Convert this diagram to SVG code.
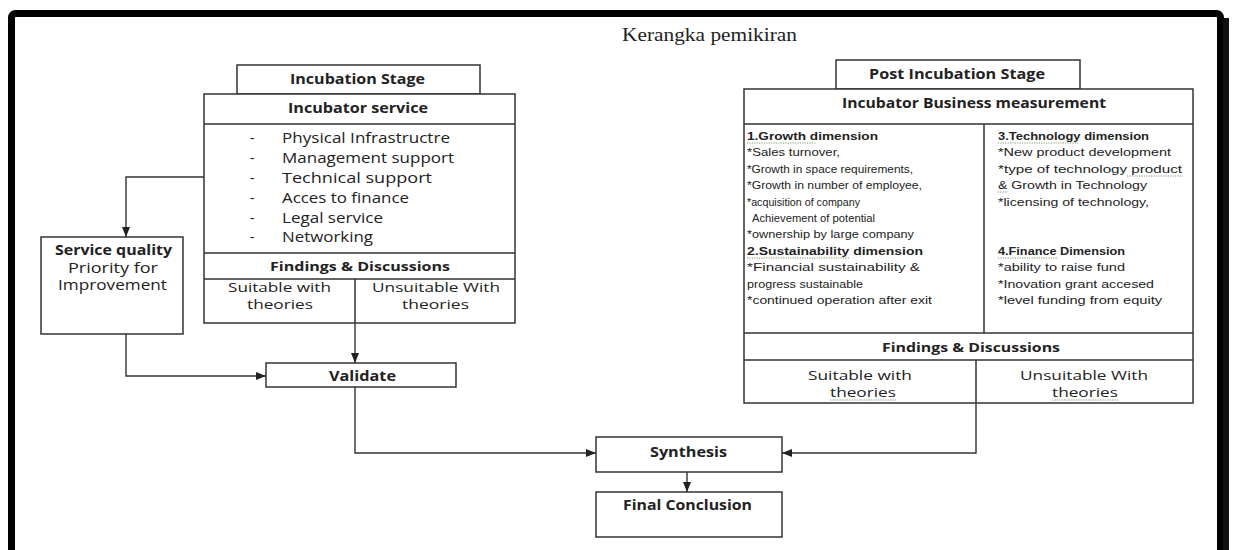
<svg xmlns="http://www.w3.org/2000/svg" width="1233" height="550" viewBox="0 0 1233 550">
<style>
.box{fill:#fff;stroke:#333;stroke-width:1.5}
.ln{fill:none;stroke:#333;stroke-width:1.5}
.con{fill:none;stroke:#333;stroke-width:1.4}
.t{font-family:"Open Sans","Liberation Sans",sans-serif;fill:#222}
.b{font-weight:bold}
.h{font-size:14px}
.m{font-size:12.5px}
.s{font-size:10.5px;font-family:"Liberation Sans",Arial,sans-serif;fill:#222}
.sq{fill:none;stroke:#7a9a6a;stroke-width:1;stroke-dasharray:1.2 1.2}
</style>
<defs>
<marker id="arr" markerUnits="userSpaceOnUse" markerWidth="10" markerHeight="8" refX="10" refY="4" orient="auto">
<path d="M0,0 L10,4 L0,8 Z" fill="#222"/>
</marker>
</defs>
<rect width="1233" height="550" fill="#fff"/>
<g id="frame">
<rect x="11.5" y="13.5" width="1209" height="600" rx="4" fill="none" stroke="#000" stroke-width="7"/>
<rect x="1223" y="18" width="6" height="532" fill="#111"/>
</g>
<g id="title">
<text x="622" y="41" font-family="Liberation Serif,serif" font-size="18" fill="#222" textLength="175" lengthAdjust="spacingAndGlyphs">Kerangka pemikiran</text>
</g>
<g id="connectors">
<path class="con" d="M204,177 H126 V237" marker-end="url(#arr)"/>
<path class="con" d="M355,323 V363" marker-end="url(#arr)"/>
<path class="con" d="M126,334 V376 H266" marker-end="url(#arr)"/>
<path class="con" d="M355,387 V453 H596" marker-end="url(#arr)"/>
<path class="con" d="M976,403 V453 H782" marker-end="url(#arr)"/>
<path class="con" d="M687,472 V492" marker-end="url(#arr)"/>
</g>
<g id="incubation-stage">
<rect class="box" x="237" y="65" width="243" height="29"/>
<text class="t b h" x="290" y="84" textLength="135" lengthAdjust="spacingAndGlyphs">Incubation Stage</text>
</g>
<g id="incubator-service">
<rect class="box" x="204" y="94" width="311" height="229"/>
<path class="ln" d="M204,124 H515 M204,253 H515 M204,279 H515 M355,279 V323"/>
<text class="t b h" x="288" y="113" textLength="140" lengthAdjust="spacingAndGlyphs">Incubator service</text>
<g class="t h">
<text x="250" y="143">-</text><text x="282" y="143" textLength="168" lengthAdjust="spacingAndGlyphs">Physical Infrastructre</text>
<text x="250" y="163">-</text><text x="282" y="163" textLength="172" lengthAdjust="spacingAndGlyphs">Management support</text>
<text x="250" y="183">-</text><text x="282" y="183" textLength="150" lengthAdjust="spacingAndGlyphs">Technical support</text>
<text x="250" y="203">-</text><text x="282" y="203" textLength="127" lengthAdjust="spacingAndGlyphs">Acces to finance</text>
<text x="250" y="223">-</text><text x="282" y="223" textLength="101" lengthAdjust="spacingAndGlyphs">Legal service</text>
<text x="250" y="242">-</text><text x="282" y="242" textLength="91" lengthAdjust="spacingAndGlyphs">Networking</text>
</g>
<text class="t b m" x="270" y="271" textLength="180" lengthAdjust="spacingAndGlyphs">Findings &amp; Discussions</text>
<text class="t m" x="228" y="292" textLength="103" lengthAdjust="spacingAndGlyphs">Suitable with</text>
<text class="t m" x="247" y="309" textLength="66" lengthAdjust="spacingAndGlyphs">theories</text>
<text class="t m" x="372" y="292" textLength="128" lengthAdjust="spacingAndGlyphs">Unsuitable With</text>
<text class="t m" x="402" y="309" textLength="67" lengthAdjust="spacingAndGlyphs">theories</text>
</g>
<g id="service-quality">
<rect class="box" x="41" y="237" width="142" height="97"/>
<text class="t b h" x="55" y="255" textLength="117" lengthAdjust="spacingAndGlyphs">Service quality</text>
<text class="t h" x="68" y="273" textLength="90" lengthAdjust="spacingAndGlyphs">Priority for</text>
<text class="t h" x="58" y="290" textLength="109" lengthAdjust="spacingAndGlyphs">Improvement</text>
</g>
<g id="validate">
<rect class="box" x="266" y="363" width="190" height="24"/>
<text class="t b h" x="329" y="381" textLength="67" lengthAdjust="spacingAndGlyphs">Validate</text>
</g>
<g id="synthesis">
<rect class="box" x="596" y="437" width="186" height="35"/>
<text class="t b h" x="650" y="457" textLength="77" lengthAdjust="spacingAndGlyphs">Synthesis</text>
</g>
<g id="final-conclusion">
<rect class="box" x="596" y="492" width="186" height="45"/>
<text class="t b h" x="623" y="510" textLength="129" lengthAdjust="spacingAndGlyphs">Final Conclusion</text>
</g>
<g id="post-incubation-stage">
<rect class="box" x="836" y="60" width="244" height="29"/>
<text class="t b h" x="869" y="79" textLength="176" lengthAdjust="spacingAndGlyphs">Post Incubation Stage</text>
</g>
<g id="business-measurement">
<rect class="box" x="744" y="89" width="449" height="314"/>
<path class="ln" d="M744,124 H1193 M744,333 H1193 M744,360 H1193 M984,124 V333 M976,360 V403"/>
<text class="t b h" x="842" y="108" textLength="264" lengthAdjust="spacingAndGlyphs">Incubator Business measurement</text>
<g class="s">
<text class="b" x="747" y="140" textLength="131" lengthAdjust="spacingAndGlyphs">1.Growth dimension</text>
<text x="747" y="156.4" textLength="93" lengthAdjust="spacingAndGlyphs">*Sales turnover,</text>
<text x="747" y="172.8" textLength="166" lengthAdjust="spacingAndGlyphs">*Growth in space requirements,</text>
<text x="747" y="189.2" textLength="175" lengthAdjust="spacingAndGlyphs">*Growth in number of employee,</text>
<text x="747" y="205.6" textLength="113" lengthAdjust="spacingAndGlyphs">*acquisition of company</text>
<text x="752" y="222" textLength="123" lengthAdjust="spacingAndGlyphs">Achievement of potential</text>
<text x="747" y="238.4" textLength="167" lengthAdjust="spacingAndGlyphs">*ownership by large company</text>
<text class="b" x="747" y="254.8" textLength="176" lengthAdjust="spacingAndGlyphs">2.Sustainability dimension</text>
<text x="747" y="271.2" textLength="173" lengthAdjust="spacingAndGlyphs">*Financial sustainability &amp;</text>
<text x="747" y="287.6" textLength="116" lengthAdjust="spacingAndGlyphs">progress sustainable</text>
<text x="747" y="304" textLength="185" lengthAdjust="spacingAndGlyphs">*continued operation after exit</text>
<text class="b" x="998" y="140" textLength="151" lengthAdjust="spacingAndGlyphs">3.Technology dimension</text>
<text x="998" y="156.4" textLength="173" lengthAdjust="spacingAndGlyphs">*New product development</text>
<text x="998" y="172.8" textLength="184" lengthAdjust="spacingAndGlyphs">*type of technology product</text>
<text x="998" y="189.2" textLength="149" lengthAdjust="spacingAndGlyphs">&amp; Growth in Technology</text>
<text x="998" y="205.6" textLength="151" lengthAdjust="spacingAndGlyphs">*licensing of technology,</text>
<text class="b" x="998" y="254.8" textLength="127" lengthAdjust="spacingAndGlyphs">4.Finance Dimension</text>
<text x="998" y="271.2" textLength="127" lengthAdjust="spacingAndGlyphs">*ability to raise fund</text>
<text x="998" y="287.6" textLength="156" lengthAdjust="spacingAndGlyphs">*Inovation grant accesed</text>
<text x="998" y="304" textLength="164" lengthAdjust="spacingAndGlyphs">*level funding from equity</text>
</g>
<path class="sq" d="M747,143 H816 M747,258 H850 M998,143 H1078 M1127,176 H1183 M998,192 H1008 M998,258 H1057"/>
<text class="t b m" x="882" y="352" textLength="178" lengthAdjust="spacingAndGlyphs">Findings &amp; Discussions</text>
<text class="t m" x="808" y="380" textLength="104" lengthAdjust="spacingAndGlyphs">Suitable with</text>
<text class="t m" x="830" y="397" textLength="66" lengthAdjust="spacingAndGlyphs">theories</text>
<text class="t m" x="1020" y="380" textLength="128" lengthAdjust="spacingAndGlyphs">Unsuitable With</text>
<text class="t m" x="1052" y="397" textLength="66" lengthAdjust="spacingAndGlyphs">theories</text>
<path class="sq" d="M830,400 H896 M1052,400 H1118"/>
</g>
</svg>
